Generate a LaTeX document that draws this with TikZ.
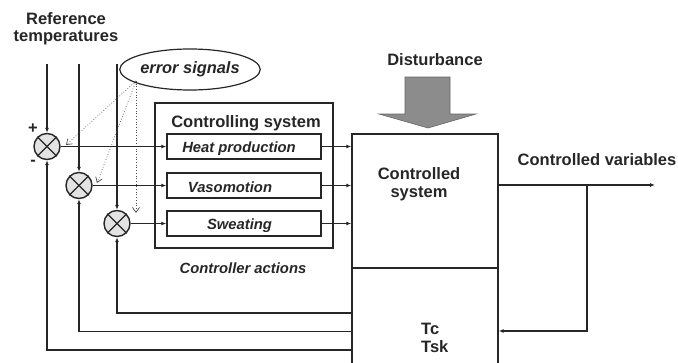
\documentclass[tikz,border=0pt]{standalone}
\usepackage{fontspec}
\setmainfont{Liberation Sans}
\usetikzlibrary{arrows.meta,shapes.geometric}
\definecolor{ink}{HTML}{262626}
\definecolor{distgray}{HTML}{8C8C8C}
\begin{document}
\begin{tikzpicture}[x=1pt,y=-1pt,
  line/.style={draw=ink, line width=1.15pt},
  arr/.style={line, -{Latex[length=5pt,width=4pt]}},
  box/.style={draw=ink, line width=1.4pt, rectangle, inner sep=0pt},
  sumj/.style={circle, draw=ink, fill=gray!22, line width=1.4pt, minimum size=26pt, inner sep=0pt},
  lbl/.style={text=ink, inner sep=0pt, font=\fontsize{16.5}{17}\selectfont\bfseries},
  ilbl/.style={text=ink, inner sep=0pt, font=\fontsize{14.8}{17}\selectfont\bfseries\itshape},
  dots/.style={draw=gray!60!black, dotted, line width=0.7pt, -{Straight Barb[length=5pt,width=7pt]}}
]
\useasboundingbox (0,0) rectangle (678,362);
\clip (0,0) rectangle (678,362);

% labels
\node[lbl, align=center, font=\fontsize{16.5}{17}\selectfont\bfseries] (ref) at (66,28.5) {Reference\\temperatures};
\node[ellipse, draw=ink, line width=1.2pt, minimum width=124pt, minimum height=41pt, inner sep=0pt,
      text=ink, font=\fontsize{16.4}{17}\selectfont\bfseries\itshape] (err) at (190,69.5) {error signals};
\node[lbl] (dist) at (435,60) {Disturbance};
\node[lbl] (plus) at (33,129) {+};
\node[lbl] (minus) at (33,163) {-};

% summing junctions
\node[sumj] (s1) at (47,146.5) {};
\node[sumj] (s2) at (79,185.5) {};
\node[sumj] (s3) at (117,223.5) {};
\foreach \s in {s1,s2,s3}{
  \draw[line] (\s.north east) -- (\s.south west) (\s.north west) -- (\s.south east);
}

% controlling system
\node[box, minimum width=178pt, minimum height=145pt] (ctl) at (244,175.5) {};
\node[lbl] (ctltitle) at (246,123) {Controlling system};
\node[box, minimum width=154pt, minimum height=25pt] (hp) at (244,146.5) {};
\node[ilbl] (hpt) at (239,148.5) {Heat production};
\node[box, minimum width=154pt, minimum height=25pt] (vm) at (244,185.5) {};
\node[ilbl] (vmt) at (230,187.5) {Vasomotion};
\node[box, minimum width=154pt, minimum height=25pt] (sw) at (244,223.5) {};
\node[ilbl] (swt) at (239.5,225.5) {Sweating};
\node[ilbl] (ca) at (243,268) {Controller actions};

% controlled system
\node[box, minimum width=146pt, minimum height=134pt] (cs) at (425,201) {};
\node[lbl, align=center, font=\fontsize{16.5}{18}\selectfont\bfseries] (cst) at (419,184) {Controlled\\system};
\node[box, minimum width=146pt, minimum height=120pt] (tb) at (425,328) {};
\node[lbl, align=left, anchor=west, font=\fontsize{16.5}{18}\selectfont\bfseries] (tt) at (421,338) {Tc\\Tsk};
\node[lbl] (cv) at (597,160) {Controlled variables};

% disturbance arrow
\draw[fill=distgray, draw=ink!70, line width=0.6pt]
  (405,77) -- (450,77) -- (450,114) -- (476,114) -- (428,128) -- (379,114) -- (405,114) -- cycle;

% reference inputs
\coordinate (r1) at (47,64);
\coordinate (r2) at (79,64);
\coordinate (r3) at (117,64);
\draw[arr] (r1) -- (s1.north);
\draw[arr] (r2) -- (s2.north);
\draw[arr] (r3) -- (s3.north);

% error signal pointers
\coordinate (es) at (136,81);
\coordinate (e1) at (66,145);
\coordinate (e2) at (97,183);
\coordinate (e3) at (136,213);
\draw[dots] (es) -- (e1);
\draw[dots] (es) -- (e2);
\draw[dots] (es) -- (e3);

% forward path
\draw[arr] (s1.east) -- (hp.west);
\draw[arr] (s2.east) -- (vm.west);
\draw[arr] (s3.east) -- (sw.west);
\draw[arr] (hp.east) -- (hp.east -| cs.west);
\draw[arr] (vm.east) -- (vm.east -| cs.west);
\draw[arr] (sw.east) -- (sw.east -| cs.west);

% output
\coordinate (out) at (655,185);
\coordinate (br) at (587,185);
\coordinate (fbin) at (0,331);
\draw[arr] (cs.east |- out) -- (out);
\draw[arr] (br) |- (tb.east |- fbin);

% feedback
\coordinate (f3) at (0,313);
\coordinate (f2) at (0,331.5);
\coordinate (f1) at (0,350);
\draw[arr] (tb.west |- f3) -| (s3.south);
\draw[arr] (tb.west |- f2) -| (s2.south);
\draw[arr] (tb.west |- f1) -| (s1.south);
\end{tikzpicture}
\end{document}
